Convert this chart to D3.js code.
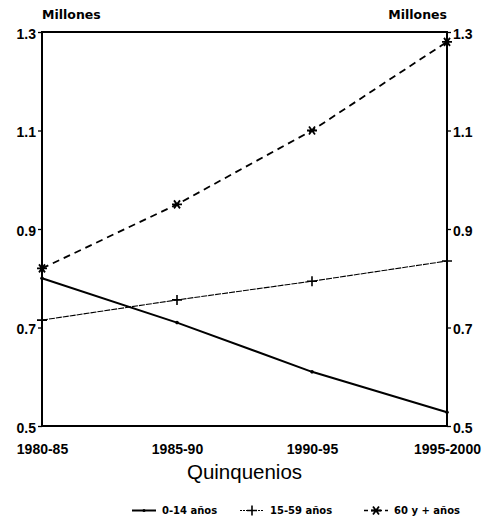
<!DOCTYPE html>
<html>
<head>
<meta charset="utf-8">
<script src="https://cdn.jsdelivr.net/npm/d3@7"></script>
<style>
  body { margin: 0; background: #fff; }
  svg { display: block; font-family: "DejaVu Sans", sans-serif; }
  .tick text { font-weight: bold; font-size: 14px; fill: #000; }
</style>
</head>
<body>
<div id="chart"></div>
<script>
// Data
const periods = ['1980-85', '1985-90', '1990-95', '1995-2000'];
const yTicks = [0.5, 0.7, 0.9, 1.1, 1.3];
const seriesNames = ['0-14 años', '15-59 años', '60 y + años'];
const young = [0.80, 0.71, 0.61, 0.528];
const adults = [0.715, 0.756, 0.794, 0.835];
const elderly = [0.82, 0.95, 1.10, 1.28];

const width = 494;
const height = 525;
const plot = { left: 42, right: 447, top: 32, bottom: 426 };

const svg = d3.select('#chart')
    .append('svg')
    .attr('width', width)
    .attr('height', height);

const x = d3.scalePoint()
    .domain(periods)
    .range([plot.left, plot.right]);

const y = d3.scaleLinear()
    .domain([0.5, 1.3])
    .range([plot.bottom, plot.top]);

// Frame
svg.append('rect')
    .attr('x', plot.left)
    .attr('y', plot.top)
    .attr('width', plot.right - plot.left)
    .attr('height', plot.bottom - plot.top)
    .attr('fill', 'none')
    .attr('stroke', '#000')
    .attr('stroke-width', 2);

// Axes
const leftAxis = svg.append('g')
    .attr('transform', `translate(${plot.left},0)`)
    .call(d3.axisLeft(y).tickValues(yTicks).tickFormat(d3.format('.1f')).tickSize(4).tickPadding(2));
leftAxis.select('.domain').remove();

const rightAxis = svg.append('g')
    .attr('transform', `translate(${plot.right},0)`)
    .call(d3.axisRight(y).tickValues(yTicks).tickFormat(d3.format('.1f')).tickSize(4).tickPadding(2));
rightAxis.select('.domain').remove();

svg.selectAll('.tick line').attr('stroke', '#000').attr('stroke-width', 1.3);
svg.selectAll('.tick text').attr('dy', '0.45em');

const bottomAxis = svg.append('g')
    .attr('transform', `translate(0,${plot.bottom})`)
    .call(d3.axisBottom(x).tickSize(0).tickPadding(18));
bottomAxis.select('.domain').remove();

// Axis titles
svg.append('text')
    .attr('x', plot.left)
    .attr('y', 19)
    .attr('font-size', 12.5)
    .attr('font-weight', 'bold')
    .text('Millones');

svg.append('text')
    .attr('x', plot.right)
    .attr('y', 19)
    .attr('text-anchor', 'end')
    .attr('font-size', 12.5)
    .attr('font-weight', 'bold')
    .text('Millones');

svg.append('text')
    .attr('x', (plot.left + plot.right) / 2)
    .attr('y', 479)
    .attr('text-anchor', 'middle')
    .attr('font-family', '"Liberation Sans", Arial, sans-serif')
    .attr('font-size', 20.5)
    .text('Quinquenios');

// Lines
const line = d3.line()
    .x((d, i) => x(periods[i]))
    .y((d) => y(d));

svg.append('path')
    .datum(young)
    .attr('d', line)
    .attr('fill', 'none')
    .attr('stroke', '#000')
    .attr('stroke-width', 2);

svg.append('path')
    .datum(adults)
    .attr('d', line)
    .attr('fill', 'none')
    .attr('stroke', '#000')
    .attr('stroke-width', 1.1)
    .attr('stroke-dasharray', '6,1');

svg.append('path')
    .datum(elderly)
    .attr('d', line)
    .attr('fill', 'none')
    .attr('stroke', '#000')
    .attr('stroke-width', 1.8)
    .attr('stroke-dasharray', '7,5');

// Markers
function drawPlus(g, cx, cy, s) {
    g.append('path')
        .attr('d', `M${cx - s},${cy}H${cx + s}M${cx},${cy - s}V${cy + s}`)
        .attr('stroke', '#000')
        .attr('stroke-width', 1.6);
}
function drawStar(g, cx, cy, s) {
    g.append('path')
        .attr('d', `M${cx - s},${cy}H${cx + s}M${cx - s * 0.6},${cy - s * 0.8}L${cx + s * 0.6},${cy + s * 0.8}M${cx + s * 0.6},${cy - s * 0.8}L${cx - s * 0.6},${cy + s * 0.8}`)
        .attr('stroke', '#000')
        .attr('stroke-width', 1.8);
}

const markers = svg.append('g');
young.forEach((d, i) => {
    markers.append('circle')
        .attr('cx', x(periods[i]))
        .attr('cy', y(d))
        .attr('r', 1.8)
        .attr('fill', '#000');
});
adults.forEach((d, i) => drawPlus(markers, x(periods[i]), y(d), 5));
elderly.forEach((d, i) => drawStar(markers, x(periods[i]), y(d), 5));

// Legend
const legend = svg.append('g')
    .attr('font-size', 10)
    .attr('font-weight', 'bold');
const legendY = 514;
const legendX = [132, 240, 364];
const legendStyles = [
    { w: 2, dash: null },
    { w: 1.1, dash: '2,1' },
    { w: 1.5, dash: '4,3' },
];
seriesNames.forEach((name, i) => {
    const lx = legendX[i];
    legend.append('line')
        .attr('x1', lx).attr('x2', lx + 24)
        .attr('y1', legendY - 3.5).attr('y2', legendY - 3.5)
        .attr('stroke', '#000')
        .attr('stroke-width', legendStyles[i].w)
        .attr('stroke-dasharray', legendStyles[i].dash);
    if (i === 0) {
        legend.append('circle').attr('cx', lx + 12).attr('cy', legendY - 3.5).attr('r', 1.5);
    } else if (i === 1) {
        drawPlus(legend, lx + 12, legendY - 3.5, 5);
    } else {
        drawStar(legend, lx + 12, legendY - 3.5, 5);
    }
    legend.append('text')
        .attr('x', lx + 30)
        .attr('y', legendY)
        .text(name);
});
</script>
</body>
</html>
